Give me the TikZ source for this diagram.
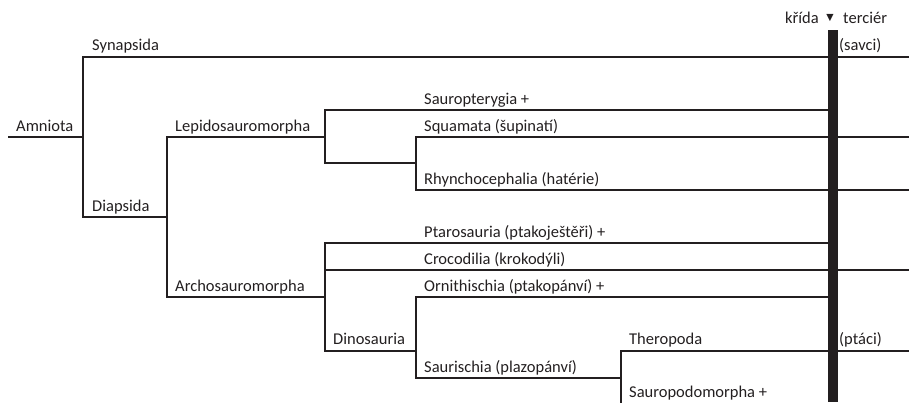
\documentclass[tikz,border=0pt]{standalone}
\usepackage{fontspec}
\setmainfont{Carlito}
\newfontfamily\symfont{DejaVu Sans}
\definecolor{ink}{HTML}{231F20}

\begin{document}
\begin{tikzpicture}[x=1pt, y=-1pt]
    \tikzset{branch/.style={draw=ink, line width=2.5pt},
             taxon/.style={anchor=base west, inner sep=0pt, text=ink, font=\fontsize{16.5}{18}\selectfont}}
  % parameters
  \def\edge{909}   % right border
  \def\kt{828}     % left side of the K/T bar

  \useasboundingbox (0,0) rectangle (\edge,402);
  \clip (0,0) rectangle (\edge,402);

  % branch points and ends of the tree
  \coordinate (root) at (8,137);
  \coordinate (amn)  at (83,137);
  \coordinate (synE) at (\edge,57);
  \coordinate (dia)  at (167,217);
  \coordinate (lep)  at (325,137);
  \coordinate (arc)  at (325,297);
  \coordinate (sptE) at (\kt,110);
  \coordinate (lepB) at (416,163);
  \coordinate (squE) at (\edge,137);
  \coordinate (rhyE) at (\edge,190);
  \coordinate (ptaE) at (\kt,243);
  \coordinate (croE) at (\edge,270);
  \coordinate (dino) at (416,351);
  \coordinate (ornE) at (\kt,297);
  \coordinate (sau)  at (621,378);
  \coordinate (theE) at (\edge,351);
  \coordinate (spdE) at (\kt,404);

  % the tree
  \draw[branch] (root) -- (amn);
  \draw[branch] (synE) -| (amn) |- (dia);
  \draw[branch] (lep) -| (dia) |- (arc);
  \draw[branch] (sptE) -| (lep) |- (lepB);
  \draw[branch] (squE) -| (lepB) |- (rhyE);
  \draw[branch] (ptaE) -| (arc) |- (dino);
  \draw[branch] (arc |- croE) -- (croE);
  \draw[branch] (ornE) -| (dino) |- (sau);
  \draw[branch] (theE) -| (sau) |- (spdE);

  % K/T boundary drawn last so it sits on top
  \fill[ink] (\kt,30) rectangle (838,402);

  % names
  \node[taxon] (amniota)  at (16,131)  {Amniota};
  \node[taxon] (synapsida) at (92,50)  {Synapsida};
  \node[taxon] (diapsida) at (92,211)  {Diapsida};
  \node[taxon] (lepido)   at (175,131) {Lepidosauromorpha};
  \node[taxon] (archo)    at (175,291) {Archosauromorpha};
  \node[taxon] (sauropt)  at (424,104) {Sauropterygia +};
  \node[taxon] (squamata) at (424,131) {Squamata (šupinatí)};
  \node[taxon] (rhyncho)  at (424,184) {Rhynchocephalia (hatérie)};
  \node[taxon] (ptaro)    at (424,237) {Ptarosauria (ptakoještěři) +};
  \node[taxon] (croco)    at (424,264) {Crocodilia (krokodýli)};
  \node[taxon] (ornith)   at (424,291) {Ornithischia (ptakopánví) +};
  \node[taxon] (dinosaur) at (333,344) {Dinosauria};
  \node[taxon] (saurisch) at (424,372) {Saurischia (plazopánví)};
  \node[taxon] (thero)    at (629,344) {Theropoda};
  \node[taxon] (sauropod) at (629,397) {Sauropodomorpha +};
  \node[taxon] (savci)    at (839,50)  {(savci)};
  \node[taxon] (ptaci)    at (839,344) {(ptáci)};

  % period labels
  \node[taxon, anchor=base east] (krida) at (819,23) {křída};
  \node[text=ink, inner sep=0pt, font=\symfont\fontsize{9.5}{9.5}\selectfont] (kt) at (830,18.5) {▼};
  \node[taxon] (tercier) at (843,23) {terciér};
\end{tikzpicture}
\end{document}
